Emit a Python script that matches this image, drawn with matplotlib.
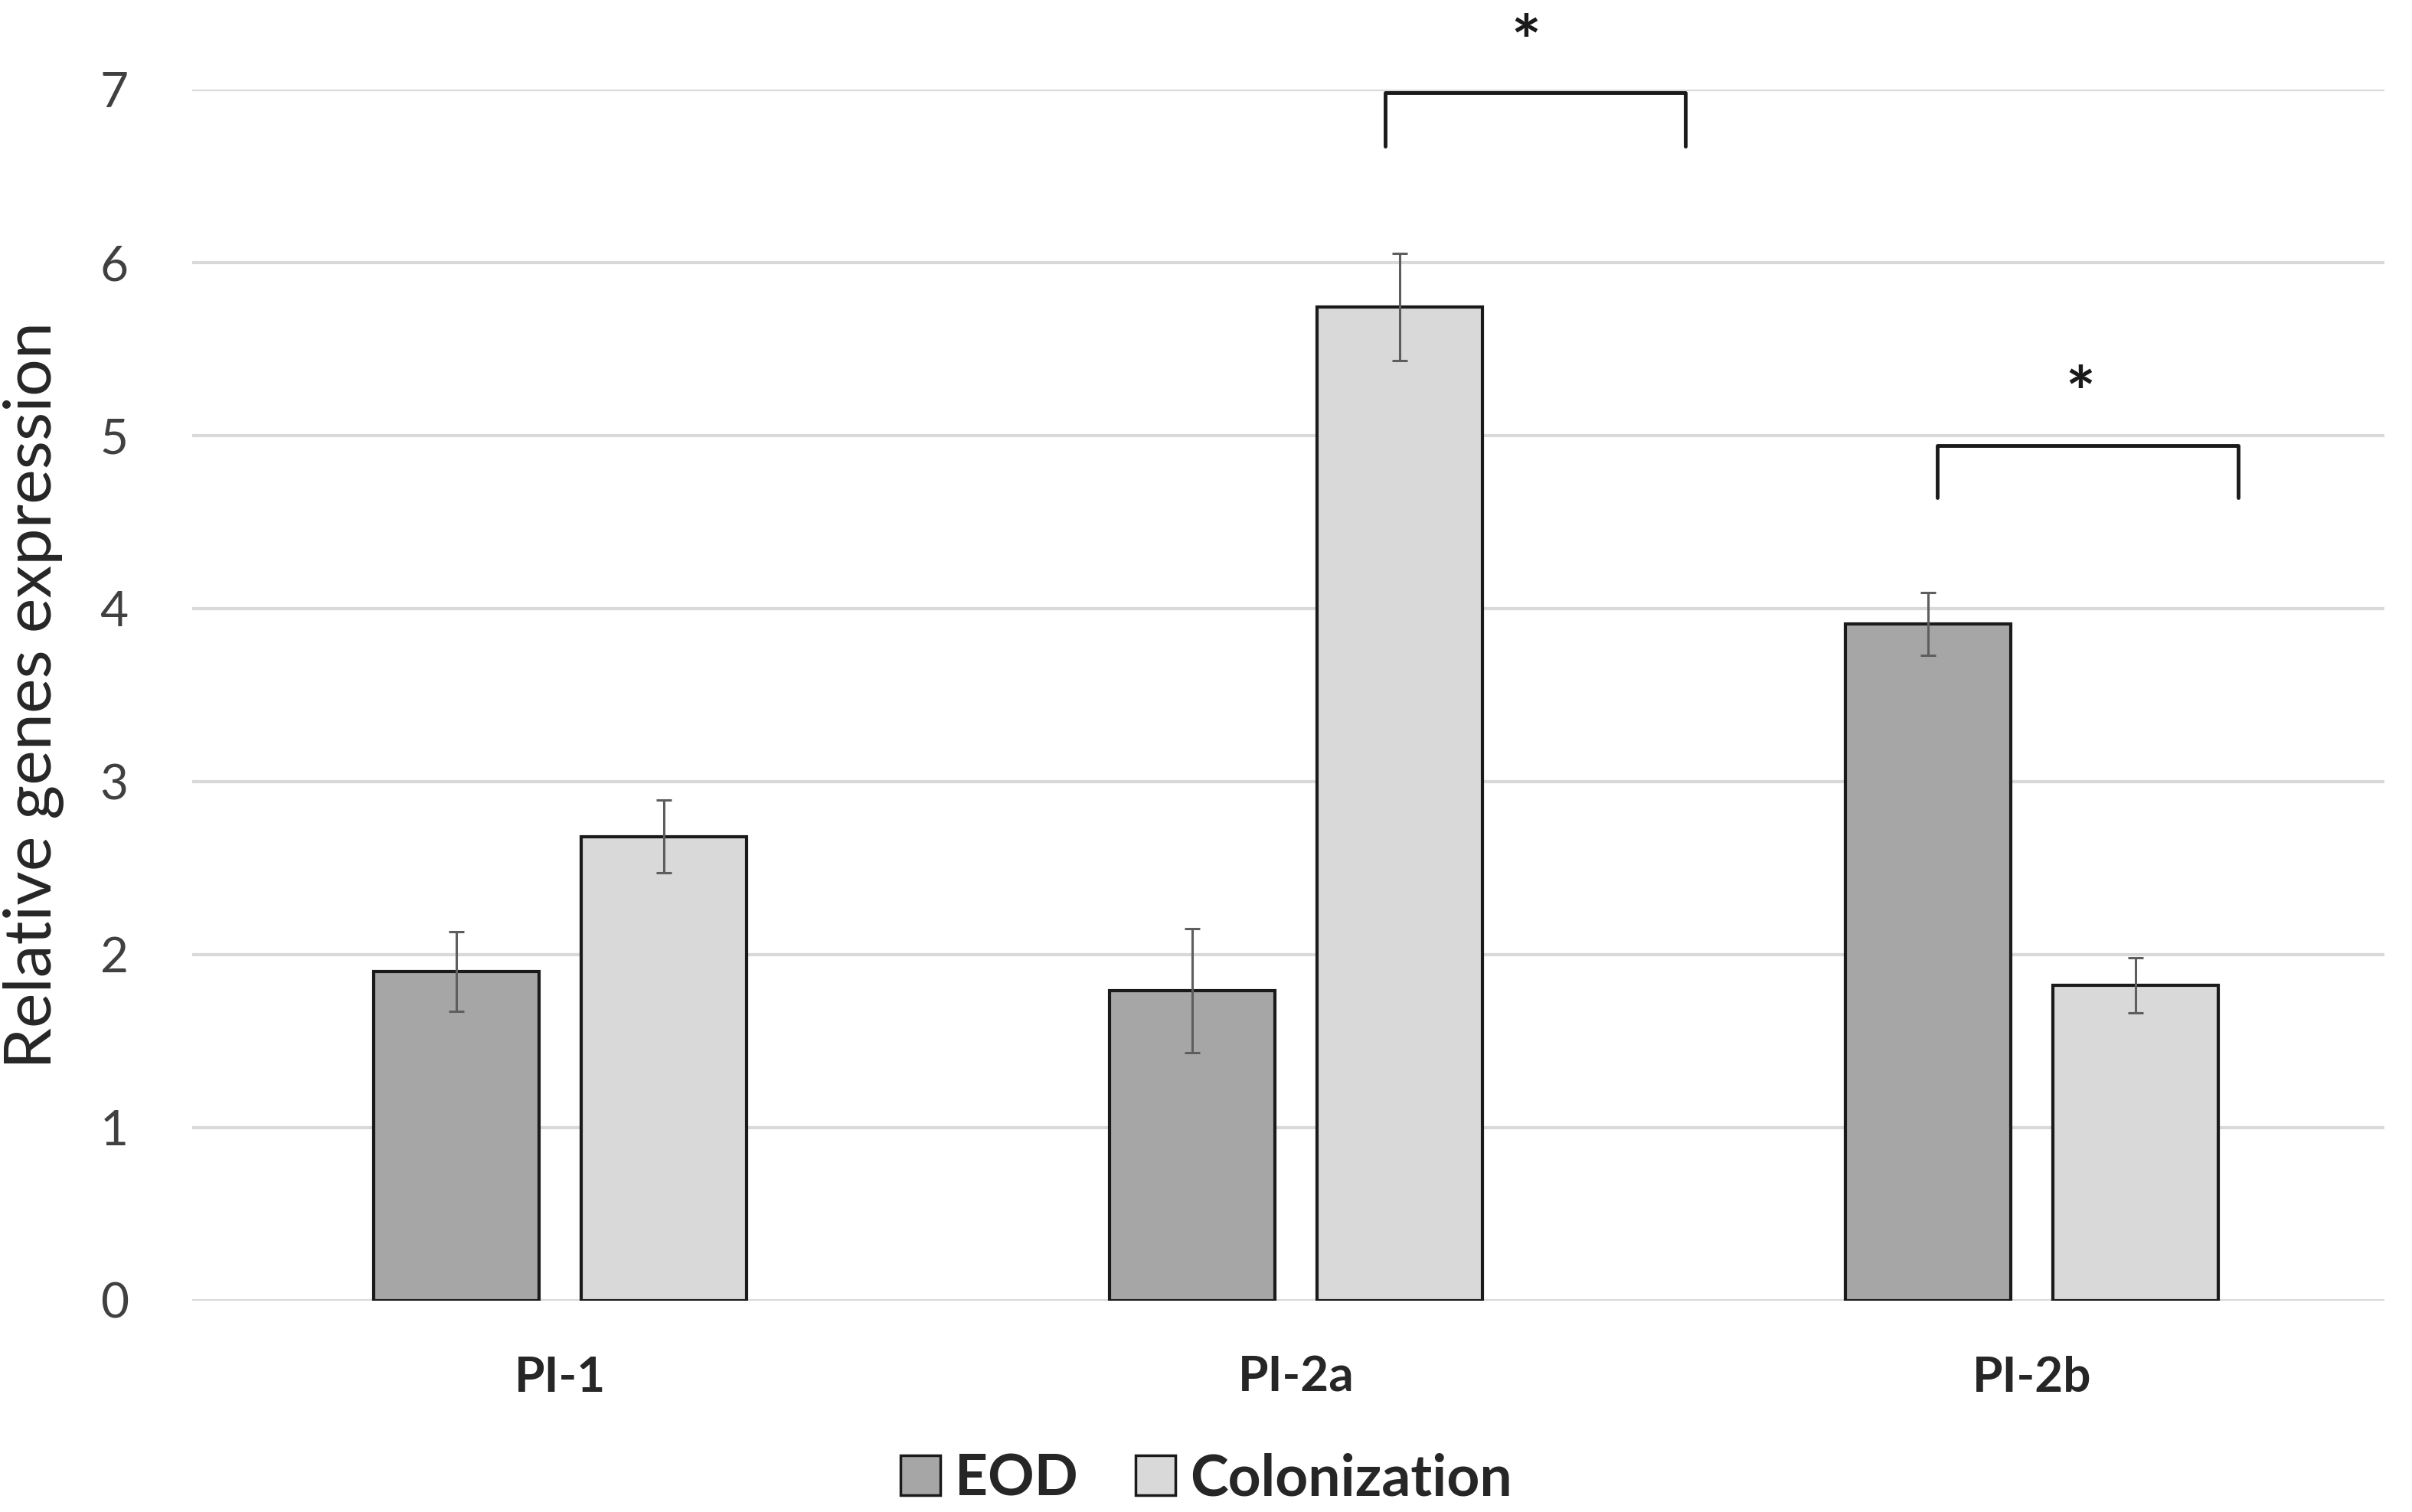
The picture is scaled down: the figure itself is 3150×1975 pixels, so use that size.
import numpy as np
import matplotlib
matplotlib.use("Agg")
import matplotlib.pyplot as plt
from matplotlib.patches import Patch

plt.rcParams['font.family'] = ['Lato', 'DejaVu Sans']

genes = ['PI-1', 'PI-2a', 'PI-2b']
eod = [1.90, 1.79, 3.91]
eod_err = [0.23, 0.36, 0.18]
colonization = [2.68, 5.74, 1.82]
colonization_err = [0.21, 0.31, 0.16]
yticks = [0, 1, 2, 3, 4, 5, 6, 7]

# significance brackets: (x_left, x_right, y_top, y_leg, star_x, star_y)
brackets = [(1.121, 1.529, 6.98, 6.67, 1.313, 7.06),
            (1.872, 2.281, 4.94, 4.64, 2.066, 5.03)]

fig = plt.figure(figsize=(31.5, 19.75), dpi=100)
ax = fig.add_axes([0.0797, 0.140, 0.909, 0.801])

x = np.arange(len(genes))
w = 0.225
off = 0.141
ekw = dict(ecolor='#5e5e5e', elinewidth=2.2, capsize=7, capthick=2.2)
ax.bar(x - off, eod, w, color='#a6a6a6', edgecolor='#1a1a1a', linewidth=3,
       yerr=eod_err, error_kw=ekw, zorder=3, label='EOD')
ax.bar(x + off, colonization, w, color='#d9d9d9', edgecolor='#1a1a1a', linewidth=3,
       yerr=colonization_err, error_kw=ekw, zorder=3, label='Colonization')

for xl, xr, yt, yl, sx, sy in brackets:
    ax.plot([xl, xl, xr, xr], [yl, yt, yt, yl], color='#1a1a1a', lw=3.5,
            solid_joinstyle='round', solid_capstyle='round', clip_on=False, zorder=4)
    ax.text(sx, sy, '*', ha='center', va='bottom', fontsize=66, fontweight='bold',
            color='#1a1a1a', clip_on=False)

ax.set_xlim(-0.5, 2.48)
ax.set_ylim(0, 7)
ax.set_yticks(yticks)
ax.set_xticks(x)
ax.set_xticklabels(genes, fontsize=46, fontweight='bold', color='#262626')
ax.tick_params(axis='x', length=0, pad=52)
ax.tick_params(axis='y', length=0, pad=60, labelsize=46, labelcolor='#404040')
for lbl in ax.get_yticklabels():
    lbl.set_horizontalalignment('right')
ax.yaxis.grid(True, color='#d9d9d9', lw=3, zorder=0)
ax.set_axisbelow(True)
for s in ax.spines.values():
    s.set_visible(False)
ax.set_ylabel('Relative genes expression', fontsize=62, color='#262626', labelpad=34)

handles = [Patch(facecolor='#a6a6a6', edgecolor='#1a1a1a', linewidth=2.5, label='EOD'),
           Patch(facecolor='#d9d9d9', edgecolor='#1a1a1a', linewidth=2.5, label='Colonization')]
leg = fig.legend(handles=handles, loc='center', bbox_to_anchor=(0.5, 0.022), ncol=2,
                 frameon=False, prop={'size': 54, 'weight': 'bold'},
                 handlelength=0.7, handleheight=0.7, handletextpad=0.25, columnspacing=1.0)
for t in leg.get_texts():
    t.set_color('#262626')

fig.savefig('out.png', dpi=100, facecolor='white')
